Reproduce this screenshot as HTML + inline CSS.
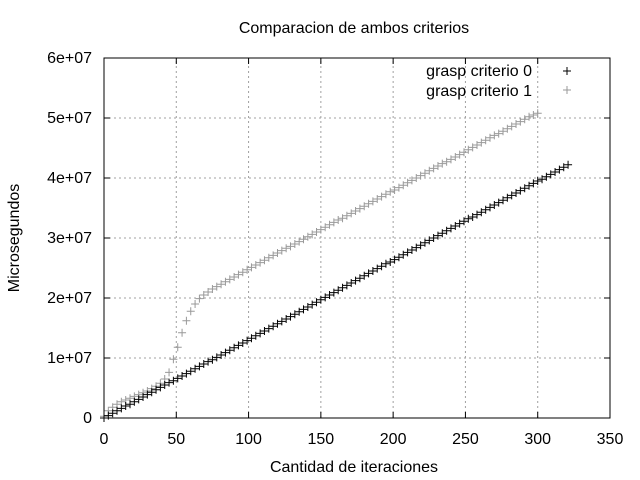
<!DOCTYPE html>
<html><head><meta charset="utf-8"><style>
body{margin:0;background:#fff}
svg{display:block;font-family:"Liberation Sans",sans-serif;font-size:16px}
</style></head><body>
<svg id="c" width="640" height="480">
<text x="354" y="33" text-anchor="middle">Comparacion de ambos criterios</text>
<text x="354" y="472" text-anchor="middle">Cantidad de iteraciones</text>
<text transform="translate(19,238) rotate(-90)" text-anchor="middle">Microsegundos</text>
<g id="grid"></g><g id="ticks"></g><g id="marks"></g>
<rect x="104" y="58" width="506" height="360" fill="none" stroke="#000"/>
<g>
<text x="532" y="76" text-anchor="end">grasp criterio 0</text>
<text x="532" y="96" text-anchor="end">grasp criterio 1</text>
<path d="M563 71h8M567 67v8" stroke="#000"/>
<path d="M563 90h8M567 86v8" stroke="#999"/>
</g>
</svg>
<script>
const xTicks=[0,50,100,150,200,250,300,350];
const yTicks=[0,1e7,2e7,3e7,4e7,5e7,6e7];
const yTickLabels=["0","1e+07","2e+07","3e+07","4e+07","5e+07","6e+07"];
const xStep=3;
const series0=[0,0.4,0.8,1.2,1.6,2.0,2.3,2.7,3.1,3.5,3.9,4.3,4.7,5.1,5.5,5.9,6.2,6.6,7.0,7.4,7.8,8.2,8.6,9.0,9.4,9.7,10.1,10.5,10.9,11.3,11.7,12.1,12.5,12.9,13.3,13.7,14.1,14.5,14.9,15.3,15.7,16.1,16.5,16.9,17.3,17.7,18.1,18.5,18.9,19.3,19.7,20.1,20.5,20.9,21.3,21.7,22.1,22.5,22.9,23.3,23.7,24.1,24.5,24.9,25.3,25.7,26.0,26.4,26.8,27.2,27.6,28.0,28.4,28.8,29.2,29.6,30.0,30.4,30.8,31.2,31.6,32.0,32.4,32.8,33.2,33.5,33.9,34.3,34.7,35.1,35.5,35.9,36.3,36.7,37.1,37.5,37.9,38.3,38.7,39.1,39.5,39.8,40.2,40.6,41.0,41.4,41.8,42.2];
const series1=[0.3,1.2,1.8,2.3,2.7,3.0,3.3,3.6,3.9,4.2,4.5,4.9,5.3,5.8,6.5,7.6,9.8,11.8,14.2,16.2,17.8,19.0,19.9,20.5,21.0,21.5,21.9,22.3,22.7,23.1,23.5,23.9,24.3,24.7,25.1,25.5,25.9,26.3,26.7,27.1,27.5,27.9,28.3,28.6,29.0,29.4,29.8,30.2,30.6,31.0,31.4,31.8,32.2,32.6,33.0,33.3,33.7,34.1,34.5,34.9,35.3,35.7,36.1,36.5,36.9,37.3,37.7,38.0,38.4,38.8,39.2,39.6,40.0,40.4,40.8,41.2,41.6,42.0,42.4,42.7,43.1,43.5,43.9,44.3,44.7,45.1,45.5,45.9,46.3,46.7,47.1,47.4,47.8,48.2,48.6,49.0,49.4,49.8,50.2,50.5,50.8];
const X0=104,X1=610,Y0=418,Y1=58;
const sx=v=>X0+(v-0)/350*(X1-X0);
const sy=v=>Y0-(v/6e7)*(Y0-Y1);
const NS="http://www.w3.org/2000/svg";
function mk(parent,tag,attrs){const e=document.createElementNS(NS,tag);for(const k in attrs)e.setAttribute(k,attrs[k]);document.getElementById(parent).appendChild(e);return e;}
xTicks.forEach((t,i)=>{const x=sx(t);
 if(i>0&&i<xTicks.length-1){const g=mk('grid','line',{x1:x,x2:x,y1:Y0,y2:Y1,stroke:'#a0a0a0','stroke-dasharray':'2,3'});
 
 }
 const tk=mk('ticks','path',{d:`M${x} ${Y0}v-6M${x} ${Y1}v6`,stroke:'#000'});
 
 
 const l=mk('ticks','text',{x:x,y:Y0+26,'text-anchor':'middle'});l.textContent=t;
 
 
});
yTicks.forEach((t,i)=>{const y=sy(t);
 if(i>0&&i<yTicks.length-1){const g=mk('grid','line',{x1:X0,x2:X1,y1:y,y2:y,stroke:'#a0a0a0','stroke-dasharray':'2,3'});
 
 }
 const tk=mk('ticks','path',{d:`M${X0} ${y}h6M${X1} ${y}h-6`,stroke:'#000'});
 
 
 const l=mk('ticks','text',{x:X0-12,y:y+5,'text-anchor':'end'});l.textContent=yTickLabels[i];
 
 
});
function draw(arr,color,name){arr.forEach((v,i)=>{const x=sx(i*xStep),y=sy(v*1e6);
 const p=mk('marks','path',{d:`M${x-4} ${y}h8M${x} ${y-4}v8`,stroke:color});
 
 });}
draw(series1,'#999','point-criterio-1');
draw(series0,'#000','point-criterio-0');
</script>
</body></html>
